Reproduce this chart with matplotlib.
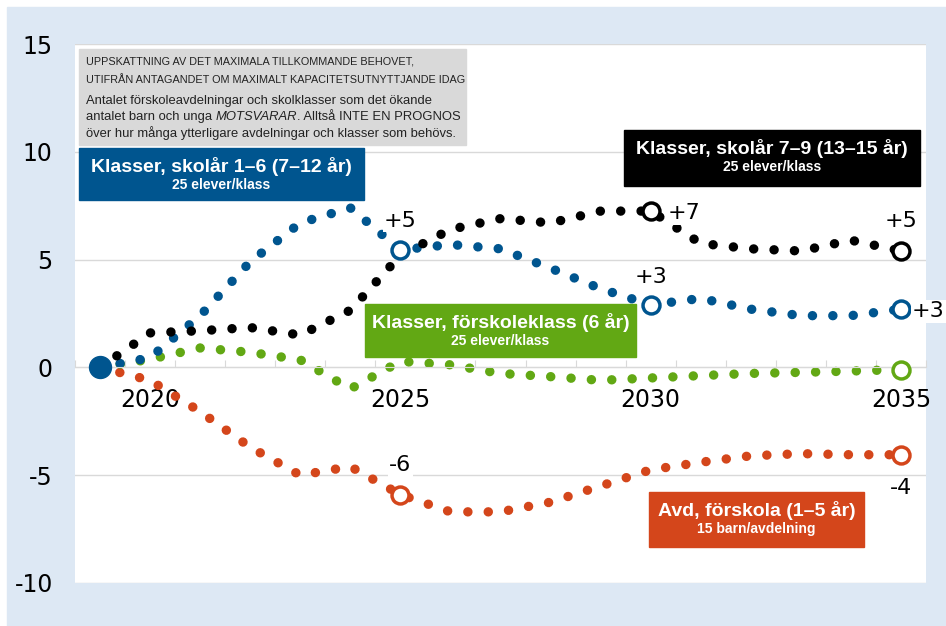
import numpy as np
import matplotlib.pyplot as plt
from matplotlib.patches import Rectangle
from matplotlib.text import Annotation

plt.rcParams['axes.unicode_minus'] = False
plt.rcParams['font.family'] = ['DejaVu Sans']

# data (yearly values)
years = list(range(2019, 2036))
forskola = [0, -0.6, -2.05, -3.7, -5.0, -4.6, -5.9, -6.7, -6.7, -6.25, -5.5, -4.75, -4.4, -4.1, -4.0, -4.05, -4.05]
forskoleklass = [0, 0.38, 0.9, 0.7, 0.35, -1.0, 0.28, 0.12, -0.28, -0.43, -0.6, -0.49, -0.38, -0.28, -0.23, -0.17, -0.1]
skolar_1_6 = [0, 0.45, 2.4, 4.9, 6.7, 7.4, 5.45, 5.7, 5.5, 4.6, 3.65, 2.9, 3.2, 2.7, 2.4, 2.4, 2.7]
skolar_7_9 = [0, 1.6, 1.7, 1.85, 1.5, 2.65, 5.2, 6.4, 6.9, 6.7, 7.25, 7.25, 5.75, 5.5, 5.4, 5.9, 5.4]
label_years = [2020, 2025, 2030, 2035]

# colours
c_red = '#d4461b'
c_green = '#62a814'
c_blue = '#00558f'
c_black = '#000000'
c_bg = '#dde8f4'
c_grid = '#d9d9d9'

W, H = 946, 626
fig = plt.figure(figsize=(W / 100, H / 100), dpi=100)


def fx(x):
    return x / W


def fy(y):
    return 1 - y / H


# light blue frame behind the plot area
fig.add_artist(Rectangle((fx(7), 0), 1, fy(7), transform=fig.transFigure,
                         color=c_bg, zorder=-10))

ax = fig.add_axes([fx(75), fy(583), (926 - 75) / W, (583 - 44) / H])
ax.set_facecolor('white')
ax.set_xlim(2018.5, 2035.5)
ax.set_ylim(-10, 15)

# series: values, colour, marked years, label placement per marked year
series = [
    (forskola, c_red, {2025: ((0, 21), 'center'), 2035: ((0, -24), 'center')}),
    (forskoleklass, c_green, {2035: None}),
    (skolar_1_6, c_blue, {2025: ((0, 21), 'center'), 2030: ((0, 20), 'center'),
                          2035: ((8, -1.5), 'left')}),
    (skolar_7_9, c_black, {2030: ((12, -1.5), 'left'), 2035: ((0, 21.5), 'center')}),
]

for values, color, marks in series:
    ax.plot(years, values, color=color, lw=6.8, linestyle=(0, (0.01, 2.15)),
            dash_capstyle='round', zorder=2)
    for yr, lab in marks.items():
        v = values[years.index(yr)]
        ax.plot(yr, v, 'o', ms=12.2, mfc='white', mec=color, mew=2.5, zorder=3)
        if lab is None:
            continue
        off, ha = lab
        ax.annotate(f"{v:+.0f}", xy=(yr, v), xytext=off, textcoords='offset points',
                    ha=ha, va='center', fontsize=16, color='black',
                    bbox=dict(fc='white', ec='none', pad=1),
                    annotation_clip=False, zorder=4)

# common start point
ax.plot(years[0], skolar_1_6[0], 'o', ms=15.8, color=c_blue, zorder=5)

# axes styling
for s in ['top', 'right', 'left']:
    ax.spines[s].set_visible(False)
ax.spines['bottom'].set_position(('data', 0))
ax.spines['bottom'].set_color(c_grid)
ax.set_yticks(range(-10, 16, 5))
ax.yaxis.grid(True, color=c_grid, lw=1)
ax.set_axisbelow(True)
ax.tick_params(axis='y', length=0, pad=16, labelsize=17)
ax.set_xticks(np.arange(2018.5, 2036, 1))
ax.tick_params(axis='x', which='major', direction='in', length=5, color=c_grid,
               labelbottom=False)
ax.set_xticks(label_years, minor=True)
ax.set_xticklabels([str(y) for y in label_years], minor=True)
ax.tick_params(axis='x', which='minor', length=0, pad=15, labelsize=17)

# grey explanation box
fig.add_artist(Rectangle((fx(79), fy(145)), (466 - 79) / W, (145 - 49) / H,
                         transform=fig.transFigure, color='#d9d9d9', zorder=1))
caps = dict(fontsize=7.8, family='Liberation Sans', va='center', color='#222222', zorder=2)
fig.text(fx(86), fy(62), "UPPSKATTNING AV DET MAXIMALA TILLKOMMANDE BEHOVET,", **caps)
fig.text(fx(86), fy(80), "UTIFRÅN ANTAGANDET OM MAXIMALT KAPACITETSUTNYTTJANDE IDAG", **caps)
body = dict(fontsize=9.4, family='Liberation Sans', va='center', color='#222222', zorder=2)
fig.text(fx(86), fy(101), "Antalet förskoleavdelningar och skolklasser som det ökande", **body)
t1 = fig.text(fx(86), fy(117), "antalet barn och unga ", **body)
t2 = Annotation("MOTSVARAR", xy=(1, 0.5), xycoords=t1, va='center', style='italic',
                fontsize=9.4, family='Liberation Sans', color='#222222')
t2.set_zorder(2)
fig.add_artist(t2)
t3 = Annotation(". Alltså INTE EN PROGNOS", xy=(1, 0.5), xycoords=t2, va='center',
                fontsize=9.4, family='Liberation Sans', color='#222222')
t3.set_zorder(2)
fig.add_artist(t3)
fig.text(fx(86), fy(133), "över hur många ytterligare avdelningar och klasser som behövs.", **body)

# series name boxes: x0, y0, x1, y1 in pixels
boxes = [
    ((79, 148, 364, 200), c_blue, "Klasser, skolår 1–6 (7–12 år)", "25 elever/klass"),
    ((624, 130, 920, 186), c_black, "Klasser, skolår 7–9 (13–15 år)", "25 elever/klass"),
    ((365, 304, 636, 357), c_green, "Klasser, förskoleklass (6 år)", "25 elever/klass"),
    ((649, 492, 864, 547), c_red, "Avd, förskola (1–5 år)", "15 barn/avdelning"),
]
for (x0, y0, x1, y1), color, title, sub in boxes:
    fig.add_artist(Rectangle((fx(x0), fy(y1)), (x1 - x0) / W, (y1 - y0) / H,
                             transform=fig.transFigure, color=color, zorder=1))
    xc = (x0 + x1) / 2
    fig.text(fx(xc), fy(y0 + 18), title, ha='center', va='center', color='white',
             fontsize=14, family='Liberation Sans', weight='bold', zorder=2)
    fig.text(fx(xc), fy(y0 + 37), sub, ha='center', va='center', color='white',
             fontsize=10, family='Liberation Sans', weight='bold', zorder=2)

fig.savefig('out.png', dpi=100)
